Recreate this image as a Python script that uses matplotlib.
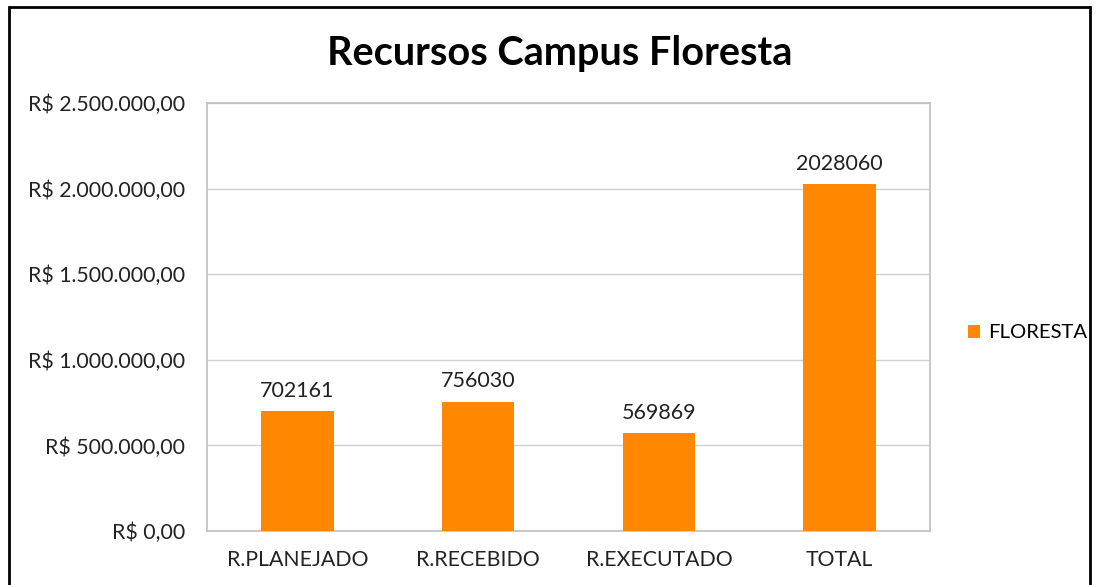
import matplotlib.pyplot as plt
from matplotlib.patches import Rectangle
from matplotlib.ticker import FuncFormatter

categories = ['R.PLANEJADO', 'R.RECEBIDO', 'R.EXECUTADO', 'TOTAL']
floresta = [702161, 756030, 569869, 2028060]
y_ticks = [0, 500000, 1000000, 1500000, 2000000, 2500000]

plt.rcParams['font.family'] = ['Lato', 'DejaVu Sans']


def brl(v, pos=None):
    s = '{:,.2f}'.format(v).replace(',', 'X').replace('.', ',').replace('X', '.')
    return 'R$ ' + s


fig = plt.figure(figsize=(10.97, 5.85), dpi=100)
ax = fig.add_axes([207 / 1097, 1 - 531 / 585, 723 / 1097, 428 / 585])

x = range(len(categories))
bars = ax.bar(x, floresta, width=0.4, color='#ff8800', label='FLORESTA', zorder=3)
for b, v in zip(bars, floresta):
    ax.text(b.get_x() + b.get_width() / 2, v + 60000, str(v),
            ha='center', va='bottom', fontsize=15.5, color='#222222')

ax.set_xlim(-0.5, len(categories) - 0.5)
ax.set_ylim(0, 2500000)
ax.set_yticks(y_ticks)
ax.yaxis.set_major_formatter(FuncFormatter(brl))
ax.set_xticks(list(x))
ax.set_xticklabels(categories)
ax.tick_params(axis='both', length=0, labelsize=15.3, colors='#222222')
ax.tick_params(axis='y', pad=16)
ax.tick_params(axis='x', pad=14)
ax.grid(axis='y', color='#d0d0d0', linewidth=1, zorder=0)
for s in ax.spines.values():
    s.set_color('#c0c0c0')
    s.set_linewidth(1.2)

fig.text(560 / 1097, 1 - 53 / 585, 'Recursos Campus Floresta',
         ha='center', va='center', fontsize=28.5, fontweight='bold')

fig.legend(loc='center left', bbox_to_anchor=(950 / 1097, 1 - 333 / 585),
           frameon=False, fontsize=14.6, handlelength=0.6, handleheight=0.6,
           handletextpad=0.4)

fig.patches.append(Rectangle((9 / 1097, -0.05), 1081 / 1097, 1.05 - 7 / 585,
                             transform=fig.transFigure, fill=False,
                             edgecolor='black', linewidth=2))

fig.savefig('out.png', dpi=100)
